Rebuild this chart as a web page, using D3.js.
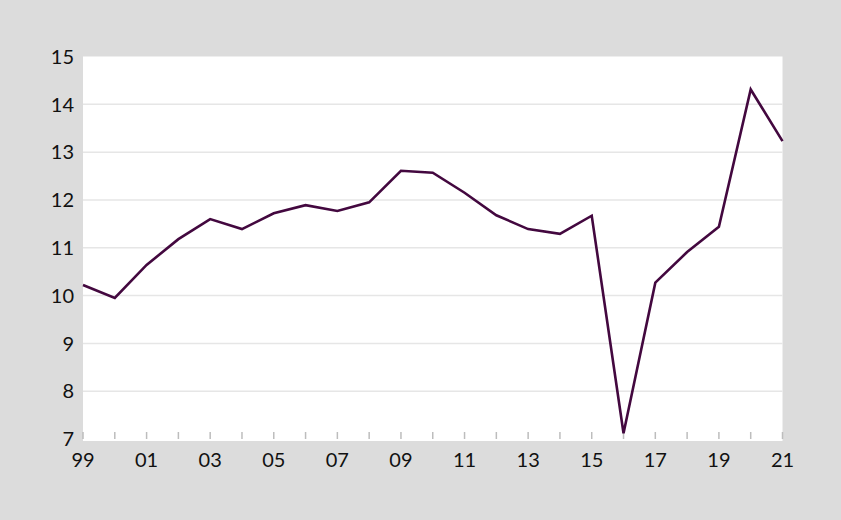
<!DOCTYPE html>
<html>
<head>
<meta charset="utf-8">
<script src="https://cdn.jsdelivr.net/npm/d3@7"></script>
<style>
  html, body { margin: 0; padding: 0; background: #dcdcdc; }
  svg { display: block; }
  text { font-family: Lato, "Open Sans", sans-serif; fill: #111; }
</style>
</head>
<body>
<div id="chart"></div>
<script>
// years 1999..2021, labels shown every other year
const years = d3.range(1999, 2022);
const values = [10.22, 9.95, 10.64, 11.18, 11.60, 11.39, 11.72, 11.89, 11.77, 11.95,
  12.61, 12.57, 12.15, 11.68, 11.39, 11.29, 11.67, 7.12, 10.27, 10.91, 11.44, 14.31, 13.23];
const yTicks = [7, 8, 9, 10, 11, 12, 13, 14, 15];
const xLabelYears = years.filter((y, i) => i % 2 === 0);

(() => {
  const width = 841, height = 520;
  const margin = { top: 56.5, right: 58.5, bottom: 81, left: 83 };
  const plotW = width - margin.left - margin.right;
  const plotH = 439 - margin.top;

  const svg = d3.select("#chart").append("svg")
    .attr("width", width)
    .attr("height", height);

  svg.append("rect")
    .attr("width", width).attr("height", height)
    .attr("fill", "#dcdcdc");

  const g = svg.append("g").attr("transform", `translate(${margin.left},${margin.top})`);

  const x = d3.scaleLinear().domain([1999, 2021]).range([0, plotW]);
  const y = d3.scaleLinear().domain([7, 15]).range([plotH, 0]);

  // white plot area
  g.append("rect")
    .attr("x", 0).attr("y", 0)
    .attr("width", plotW).attr("height", plotH + 2)
    .attr("fill", "#fff");

  // gridlines
  g.selectAll(".grid")
    .data(yTicks.filter(d => d > 7 && d < 15))
    .join("line")
    .attr("x1", 0).attr("x2", plotW)
    .attr("y1", d => y(d)).attr("y2", d => y(d))
    .attr("stroke", "#e6e6e6")
    .attr("stroke-width", 1.5);

  // x tick marks (every year, inside plot)
  g.selectAll(".xtick")
    .data(years)
    .join("line")
    .attr("x1", d => x(d)).attr("x2", d => x(d))
    .attr("y1", plotH - 7).attr("y2", plotH)
    .attr("stroke", "#bdbdbd")
    .attr("stroke-width", 1.5);

  // y labels
  g.selectAll(".ylab")
    .data(yTicks)
    .join("text")
    .attr("x", -9)
    .attr("y", d => y(d))
    .attr("dy", "0.36em")
    .attr("text-anchor", "end")
    .style("font-size", "20px")
    .text(d => d);

  // x labels
  g.selectAll(".xlab")
    .data(xLabelYears)
    .join("text")
    .attr("x", d => x(d))
    .attr("y", plotH + 28)
    .attr("text-anchor", "middle")
    .style("font-size", "20px")
    .text(d => String(d % 100).padStart(2, "0"));

  // line
  const line = d3.line()
    .x((d, i) => x(years[i]))
    .y(d => y(d));

  g.append("path")
    .datum(values)
    .attr("d", line)
    .attr("fill", "none")
    .attr("stroke", "#43083f")
    .attr("stroke-width", 2.6)
    .attr("stroke-linejoin", "miter");
})();
</script>
</body>
</html>
